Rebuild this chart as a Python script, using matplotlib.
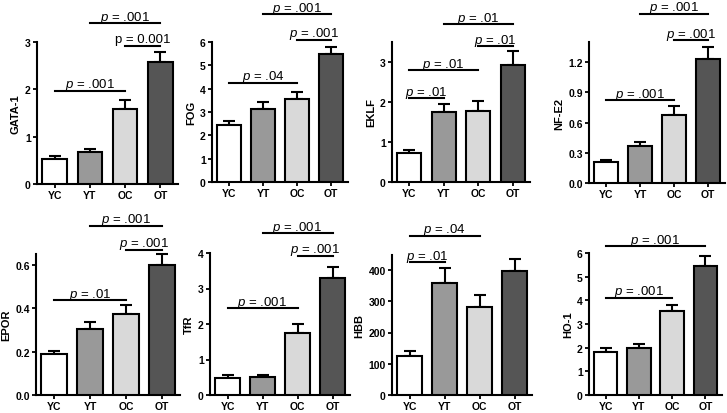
import matplotlib
matplotlib.use("Agg")
import matplotlib.pyplot as plt

plt.rcParams['font.family'] = ['Liberation Sans', 'DejaVu Sans']
plt.rcParams['mathtext.fontset'] = 'custom'
plt.rcParams['mathtext.it'] = 'Liberation Sans:italic'
plt.rcParams['mathtext.rm'] = 'Liberation Sans'

groups = ['YC', 'YT', 'OC', 'OT']

gata1 = [0.53, 0.67, 1.58, 2.58]
gata1_err = [0.06, 0.07, 0.2, 0.2]
fog = [2.45, 3.12, 3.55, 5.47]
fog_err = [0.15, 0.32, 0.3, 0.33]
eklf = [0.72, 1.75, 1.78, 2.92]
eklf_err = [0.08, 0.2, 0.24, 0.35]
nfe2 = [0.21, 0.37, 0.68, 1.23]
nfe2_err = [0.015, 0.04, 0.08, 0.12]
epor = [0.19, 0.305, 0.375, 0.60]
epor_err = [0.015, 0.03, 0.04, 0.05]
tfr = [0.47, 0.52, 1.75, 3.3]
tfr_err = [0.08, 0.05, 0.24, 0.3]
hbb = [125, 360, 283, 398]
hbb_err = [15, 47, 37, 37]
ho1 = [1.83, 1.97, 3.53, 5.47]
ho1_err = [0.15, 0.2, 0.27, 0.4]

# p-value labels for each comparison (group i vs group j)
gata1_p = [(0, 2, '.001'), (2, 3, '0.001'), (1, 3, '.001')]
fog_p = [(0, 2, '.04'), (2, 3, '.001'), (1, 3, '.001')]
eklf_p = [(0, 1, '.01'), (0, 2, '.01'), (2, 3, '.01'), (1, 3, '.01')]
nfe2_p = [(0, 2, '.001'), (2, 3, '.001'), (1, 3, '.001')]
epor_p = [(0, 2, '.01'), (2, 3, '.001'), (1, 3, '.001')]
tfr_p = [(0, 2, '.001'), (2, 3, '.001'), (1, 3, '.001')]
hbb_p = [(0, 1, '.01'), (0, 2, '.04')]
ho1_p = [(0, 2, '.001'), (0, 3, '.001')]

colors = ['white', '#999999', '#d9d9d9', '#555555']

# panel layout in pixels: left, right, top, bottom, ylim, ticks, bracket heights
W, H = 727, 414
panels = [
    ('GATA-1', gata1, gata1_err, gata1_p, (37, 178, 43, 185), 3, [0, 1, 2, 3], [1.97, 2.92, 3.40], '%d'),
    ('FOG', fog, fog_err, fog_p, (212, 348, 43, 183), 6, list(range(7)), [4.25, 6.09, 7.2], '%d'),
    ('EKLF', eklf, eklf_err, eklf_p, (392, 530, 43, 183), 3.5, [0, 1, 2, 3], [2.1, 2.8, 3.4, 3.95], '%d'),
    ('NF-E2', nfe2, nfe2_err, nfe2_p, (589, 725, 43, 184), 1.4, [0, 0.3, 0.6, 0.9, 1.2], [0.82, 1.42, 1.68], '%.1f'),
    ('EPOR', epor, epor_err, epor_p, (36, 180, 255, 396), 0.65, [0, 0.2, 0.4, 0.6], [0.436, 0.67, 0.78], '%.1f'),
    ('TfR', tfr, tfr_err, tfr_p, (210, 350, 254, 396), 4, [0, 1, 2, 3, 4], [2.45, 3.92, 4.56], '%d'),
    ('HBB', hbb, hbb_err, hbb_p, (392, 532, 256, 396), 448, [0, 100, 200, 300, 400], [425, 509], '%d'),
    ('HO-1', ho1, ho1_err, ho1_p, (589, 722, 254, 396), 6, list(range(7)), [4.1, 6.29], '%d'),
]

fig = plt.figure(figsize=(7.27, 4.14), dpi=100)

for name, vals, errs, pvals, (l, r, t, b), ytop, ticks, heights, fmt in panels:
    ax = fig.add_axes([l / W, (H - b) / H, (r - l) / W, (b - t) / H])
    x = range(len(groups))
    ax.bar(x, vals, width=0.7, color=colors, edgecolor='black', linewidth=1.5, zorder=3)
    eb = ax.errorbar(x, vals, yerr=[[0] * 4, errs], fmt='none', ecolor='black',
                     elinewidth=1.5, capsize=4.5, capthick=1.5, zorder=2)
    for artist in eb.lines[1] + eb.lines[2]:
        artist.set_clip_on(False)
    ax.set_xlim(-0.5, 3.5)
    ax.set_ylim(0, ytop)
    ax.set_yticks(ticks)
    ax.set_yticklabels([fmt % v for v in ticks])
    ax.set_xticks(list(x))
    ax.set_xticklabels(groups)
    for s in ['top', 'right']:
        ax.spines[s].set_visible(False)
    for s in ['left', 'bottom']:
        ax.spines[s].set_linewidth(1.5)
    ax.tick_params(width=1.3, length=3, labelsize=7.5, pad=1.5)
    for lab in ax.get_xticklabels() + ax.get_yticklabels():
        lab.set_fontweight('bold')
    ax.set_ylabel(name, fontsize=8, fontweight='bold', labelpad=3)

    for (i, j, p), h in zip(pvals, heights):
        ax.plot([i, j], [h, h], color='black', lw=1.5, clip_on=False)
        if p == '0.001':
            label = 'p = 0.001'
        else:
            label = r'$\it{p}$ = ' + p
        ax.annotate(label, xy=((i + j) / 2, h), xytext=(0, 2.5), textcoords='offset points',
                    ha='center', va='baseline', fontsize=9.5, annotation_clip=False)

fig.savefig('out.png', dpi=100)
